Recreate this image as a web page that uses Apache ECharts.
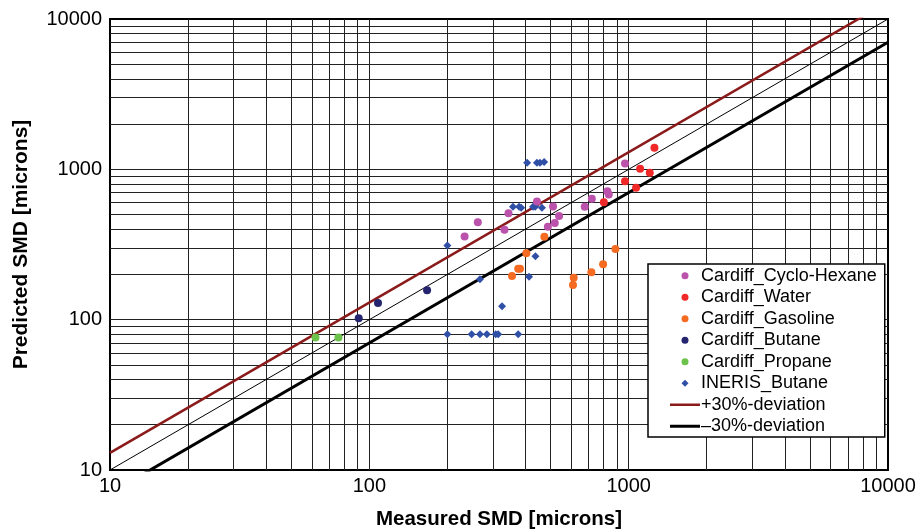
<!DOCTYPE html>
<html>
<head>
<meta charset="utf-8">
<script src="https://cdn.jsdelivr.net/npm/echarts@6/dist/echarts.min.js"></script>
<style>
html,body{margin:0;padding:0;background:#fff;}
#chart{width:919px;height:531px;}
</style>
</head>
<body>
<div id="chart"></div>
<script>
// ---- data ----
const xTicks = [10, 100, 1000, 10000];
const yTicks = [10, 100, 1000, 10000];
const gridValues = [20,30,40,50,60,70,80,90,100,200,300,400,500,600,700,800,900,1000,2000,3000,4000,5000,6000,7000,8000,9000];

const cycloHexane = [[968,1094],[828,716],[838,681],[721,637],[677,563],[443,612],[511,567],[344,511],[539,489],[262,444],[519,439],[488,415],[332,396],[233,358]];
const water = [[1257,1390],[1107,1008],[1206,948],[968,834],[1068,753],[802,603]];
const gasoline = [[473,356],[403,277],[375,218],[381,218],[355,195],[889,295],[797,234],[718,207],[614,190],[610,170]];
const butane = [[91,102],[108,129],[167,157]];
const propane = [[62,76],[76,76]];
const inerisButane = [[406,1108],[443,1108],[455,1108],[472,1117],[358,563],[378,563],[385,555],[428,563],[436,563],[463,555],[200,312],[437,264],[267,186],[413,193],[325,123],[200,80],[248,80],[267,80],[284,80],[307,80],[314,80],[375,80]];
const plus30 = [[10,13],[10000,13000]];
const parity = [[10,10],[10000,10000]];
const minus30 = [[10,7],[10000,7000]];

const FONT = '"Liberation Sans", Arial, Helvetica, sans-serif';

const C_HEX = '#bb52ab', C_WAT = '#f02828', C_GAS = '#f56b22', C_BUT = '#25256f', C_PRO = '#6cc24a', C_INE = '#3050a8', C_P30 = '#8b1a1a', C_M30 = '#000';
const DIAMOND = 'path://M5,0L10,5L5,10L0,5Z';

const chart = echarts.init(document.getElementById('chart'), null, {renderer: 'canvas'});

function scatter(name, data, color, symbol, size) {
  return {
    name: name, type: 'scatter', data: data, symbol: symbol, symbolSize: size,
    itemStyle: {color: color, opacity: 1}, z: 10, silent: true
  };
}

const gridLineData = [];
gridValues.forEach(v => { gridLineData.push({xAxis: v}); gridLineData.push({yAxis: v}); });

const option = {
  backgroundColor: '#fff',
  animation: false,
  textStyle: {fontFamily: FONT},
  grid: {left: 110, right: 31, top: 19, bottom: 61, containLabel: false, outerBoundsMode: 'none',
    show: true, borderColor: '#000', borderWidth: 2, backgroundColor: 'transparent'},
  xAxis: {
    type: 'log', logBase: 10, min: xTicks[0], max: xTicks[xTicks.length-1],
    name: 'Measured SMD [microns]', nameLocation: 'middle', nameGap: 39,
    nameTextStyle: {fontFamily: FONT, fontWeight: 'bold', fontSize: 20.5, color: '#000'},
    axisLine: {show: true, lineStyle: {color: '#000', width: 2}},
    axisTick: {show: false},
    splitLine: {show: false},
    axisLabel: {fontFamily: FONT, fontSize: 20, color: '#000', margin: 6,
      formatter: v => String(Math.round(v))}
  },
  yAxis: {
    type: 'log', logBase: 10, min: yTicks[0], max: yTicks[yTicks.length-1],
    name: 'Predicted SMD [microns]', nameLocation: 'middle', nameGap: 78,
    nameTextStyle: {fontFamily: FONT, fontWeight: 'bold', fontSize: 21, color: '#000'},
    axisLine: {show: true, lineStyle: {color: '#000', width: 2}},
    axisTick: {show: false},
    splitLine: {show: false},
    axisLabel: {fontFamily: FONT, fontSize: 20, color: '#000', margin: 8,
      formatter: v => String(Math.round(v))}
  },
  legend: {
    orient: 'vertical', left: 648, top: 264, z: 20,
    backgroundColor: '#fff', borderColor: '#000', borderWidth: 1.5, borderRadius: 0,
    padding: [1, 8, 0, 22], itemGap: 0, itemWidth: 30, itemHeight: 7,
    symbolKeepAspect: true,
    textStyle: {fontFamily: FONT, fontSize: 18, color: '#000', lineHeight: 21.5, padding: [0,0,0,-4]},
    data: [
      {name: 'Cardiff_Cyclo-Hexane', icon: 'circle', itemStyle: {color: C_HEX}},
      {name: 'Cardiff_Water', icon: 'circle', itemStyle: {color: C_WAT}},
      {name: 'Cardiff_Gasoline', icon: 'circle', itemStyle: {color: C_GAS}},
      {name: 'Cardiff_Butane', icon: 'circle', itemStyle: {color: C_BUT}},
      {name: 'Cardiff_Propane', icon: 'circle', itemStyle: {color: C_PRO}},
      {name: 'INERIS_Butane', icon: DIAMOND, itemStyle: {color: C_INE}},
      {name: '+30%-deviation', icon: 'path://M0,0L30,0L30,2.5L0,2.5Z', itemStyle: {color: C_P30, borderWidth: 0}},
      {name: '–30%-deviation', icon: 'path://M0,0L30,0L30,3L0,3Z', itemStyle: {color: C_M30, borderWidth: 0}}
    ]
  },
  series: [
    {
      name: 'grid', type: 'line', data: [], z: 1, silent: true,
      markLine: {
        z: 1, silent: true, symbol: ['none','none'], animation: false,
        label: {show: false},
        lineStyle: {color: '#222', width: 1, type: 'solid'},
        emphasis: {disabled: true},
        data: gridLineData
      }
    },
    {name: 'parity', type: 'line', data: parity, symbol: 'none', z: 5, silent: true,
      lineStyle: {color: '#000', width: 1}},
    {name: '+30%-deviation', type: 'line', data: plus30, symbol: 'none', z: 5, silent: true,
      lineStyle: {color: C_P30, width: 2.5}, itemStyle: {color: C_P30}},
    {name: '–30%-deviation', type: 'line', data: minus30, symbol: 'none', z: 5, silent: true,
      lineStyle: {color: C_M30, width: 3}, itemStyle: {color: C_M30}},
    scatter('INERIS_Butane', inerisButane, C_INE, DIAMOND, [8, 8]),
    scatter('Cardiff_Cyclo-Hexane', cycloHexane, C_HEX, 'circle', 8),
    scatter('Cardiff_Water', water, C_WAT, 'circle', 8),
    scatter('Cardiff_Gasoline', gasoline, C_GAS, 'circle', 8),
    scatter('Cardiff_Butane', butane, C_BUT, 'circle', 8),
    scatter('Cardiff_Propane', propane, C_PRO, 'circle', 8)
  ]
};
chart.setOption(option);
</script>
</body>
</html>
